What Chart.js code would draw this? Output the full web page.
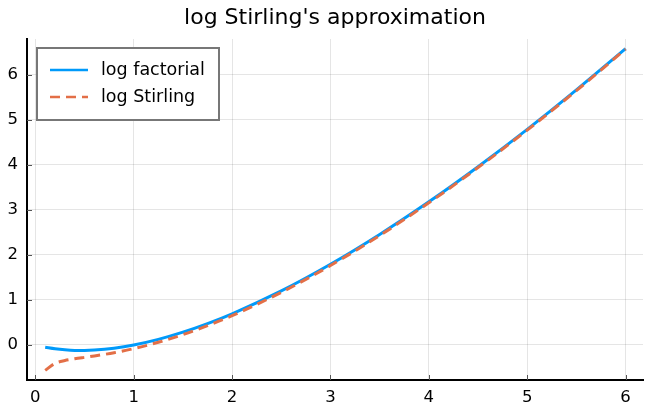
<!DOCTYPE html>
<html>
<head>
<meta charset="utf-8">
<script src="https://cdn.jsdelivr.net/npm/chart.js@4/dist/chart.umd.min.js"></script>
<style>
  html, body { margin: 0; padding: 0; background: #fff; }
  #wrap { width: 645px; height: 406px; }
</style>
</head>
<body>
<div id="wrap"><canvas id="stirling"></canvas></div>
<script>
// sample points along x
const xs = [0.1, 0.2, 0.3, 0.4, 0.5, 0.6, 0.8, 1, 1.25, 1.5, 1.75, 2, 2.5, 3, 3.5, 4, 4.5, 5, 5.5, 6];
const logFactorial = [-0.050, -0.085, -0.108, -0.120, -0.121, -0.113, -0.071, 0.000, 0.125, 0.285, 0.475, 0.693, 1.201, 1.792, 2.454, 3.178, 3.958, 4.787, 5.663, 6.579];
const logStirling = [-0.563, -0.408, -0.344, -0.306, -0.274, -0.243, -0.171, -0.081, 0.060, 0.230, 0.428, 0.652, 1.168, 1.764, 2.430, 3.157, 3.939, 4.771, 5.647, 6.566];
const xTicks = [0, 1, 2, 3, 4, 5, 6];
const yTicks = [0, 1, 2, 3, 4, 5, 6];
const titleText = "log Stirling's approximation";

const FONT = "'DejaVu Sans', sans-serif";

function pts(ys) {
    return xs.map(function (x, i) { return { x: x, y: ys[i] }; });
}

// title centred over the plot, legend box in the top-left corner, inward tick marks
const plotExtras = {
    id: 'plotExtras',
    afterDraw: function (chart) {
        const ctx = chart.ctx;
        const xs_ = chart.scales.x, ys_ = chart.scales.y, area = chart.chartArea;
        ctx.save();

        ctx.fillStyle = '#000';
        ctx.font = '22px ' + FONT;
        ctx.textAlign = 'center';
        ctx.textBaseline = 'middle';
        ctx.fillText(titleText, (area.left + area.right) / 2, 18);

        ctx.strokeStyle = '#555';
        ctx.lineWidth = 1;
        xTicks.forEach(function (t) {
            const px = Math.round(xs_.getPixelForValue(t)) + 0.5;
            ctx.beginPath(); ctx.moveTo(px, area.bottom); ctx.lineTo(px, area.bottom - 5); ctx.stroke();
        });
        yTicks.forEach(function (t) {
            const py = Math.round(ys_.getPixelForValue(t)) + 0.5;
            ctx.beginPath(); ctx.moveTo(area.left, py); ctx.lineTo(area.left + 5, py); ctx.stroke();
        });

        const bx = 37, by = 48, bw = 182, bh = 72;
        ctx.fillStyle = '#fff';
        ctx.fillRect(bx, by, bw, bh);
        ctx.strokeStyle = '#777';
        ctx.lineWidth = 2;
        ctx.strokeRect(bx, by, bw, bh);
        ctx.font = '17.5px ' + FONT;
        ctx.textAlign = 'left';
        ctx.textBaseline = 'middle';
        const entries = chart.data.datasets.slice().sort(function (a, b) { return a.legendIndex - b.legendIndex; });
        entries.forEach(function (ds, i) {
            const y = by + 22 + i * 27;
            ctx.strokeStyle = ds.borderColor;
            ctx.lineWidth = 2.5;
            ctx.setLineDash(ds.borderDash || []);
            ctx.beginPath(); ctx.moveTo(bx + 13, y); ctx.lineTo(bx + 51, y); ctx.stroke();
            ctx.setLineDash([]);
            ctx.fillStyle = '#000';
            ctx.fillText(ds.label, bx + 64, y);
        });
        ctx.restore();
    }
};

new Chart(document.getElementById('stirling'), {
    type: 'line',
    data: {
        datasets: [{
            label: 'log factorial',
            legendIndex: 0,
            order: 1,
            data: pts(logFactorial),
            borderColor: '#009AFA',
            borderWidth: 3,
            pointRadius: 0,
            cubicInterpolationMode: 'monotone',
            fill: false
        }, {
            label: 'log Stirling',
            legendIndex: 1,
            order: 0,
            data: pts(logStirling),
            borderColor: '#E36F47',
            borderWidth: 3,
            borderDash: [10, 6],
            pointRadius: 0,
            cubicInterpolationMode: 'monotone',
            fill: false
        }]
    },
    options: {
        responsive: true,
        maintainAspectRatio: false,
        animation: false,
        layout: { padding: { left: 0, right: 2, top: 39, bottom: 0 } },
        plugins: {
            legend: { display: false },
            tooltip: { enabled: false },
            title: { display: false }
        },
        scales: {
            x: {
                type: 'linear',
                min: -0.085,
                max: 6.177,
                afterBuildTicks: function (s) { s.ticks = xTicks.map(function (v) { return { value: v }; }); },
                afterFit: function (s) { s.height = 26; },
                ticks: { color: '#000', font: { family: FONT, size: 16.5 }, padding: 8, includeBounds: false },
                grid: { color: 'rgba(0,0,0,0.1)', drawTicks: false },
                border: { color: '#000', width: 2 }
            },
            y: {
                type: 'linear',
                min: -0.777,
                max: 6.793,
                afterBuildTicks: function (s) { s.ticks = yTicks.map(function (v) { return { value: v }; }); },
                afterFit: function (s) { s.width = 27; },
                ticks: { color: '#000', font: { family: FONT, size: 16.5 }, padding: 9, includeBounds: false },
                grid: { color: 'rgba(0,0,0,0.1)', drawTicks: false },
                border: { color: '#000', width: 2 }
            }
        }
    },
    plugins: [plotExtras]
});
</script>
</body>
</html>
